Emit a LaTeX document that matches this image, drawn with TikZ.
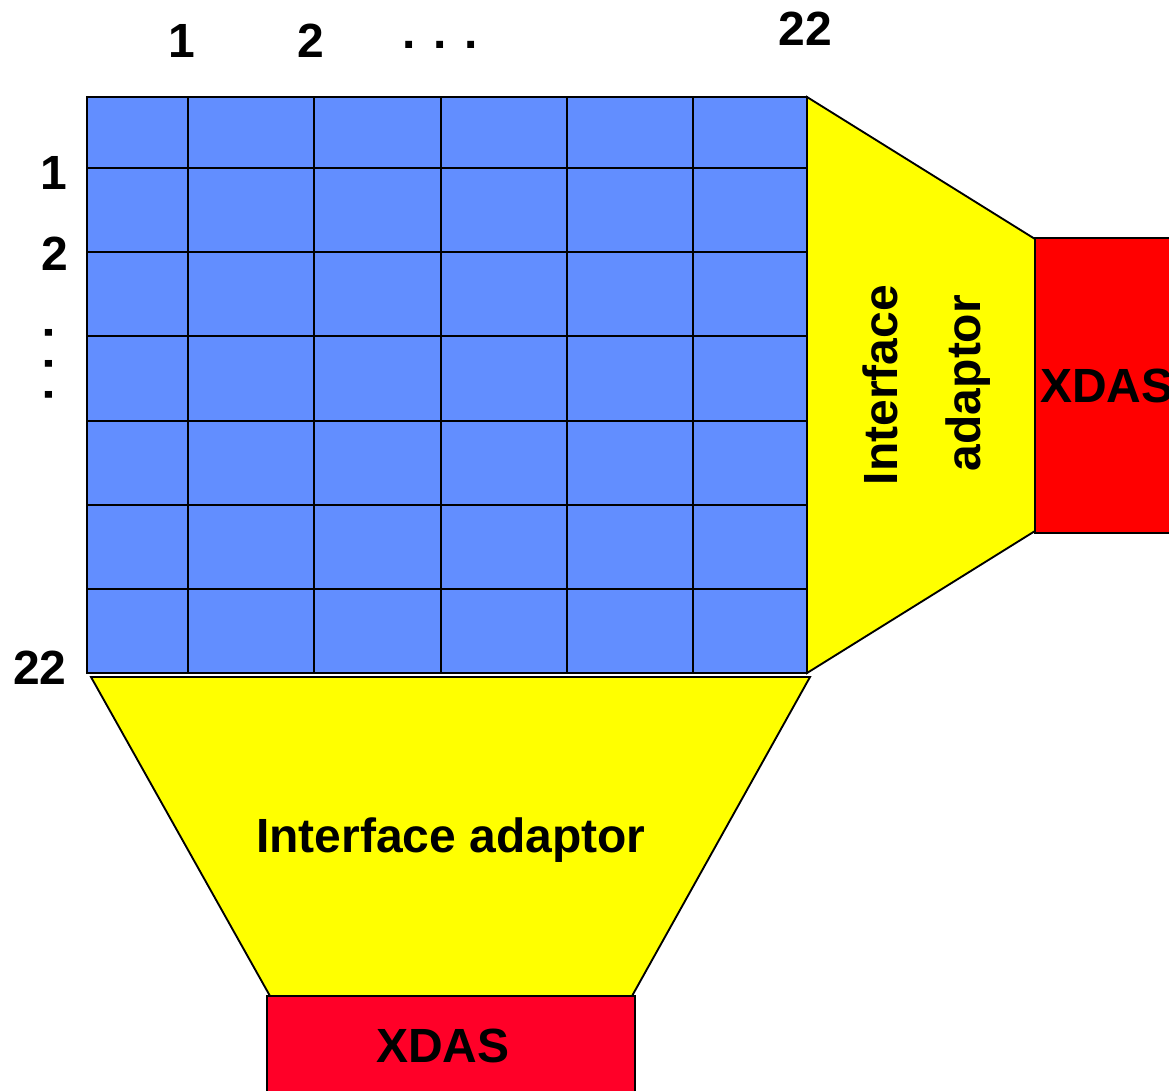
\documentclass[tikz,border=0pt]{standalone}
\usepackage{fontspec}
\setmainfont{Liberation Sans}
\definecolor{gridblue}{RGB}{98,142,255}
\definecolor{adapyellow}{RGB}{255,255,0}
\definecolor{xdasred}{RGB}{255,0,0}
\definecolor{xdascrimson}{RGB}{255,0,40}
\tikzset{
  lbl/.style={font=\fontsize{36}{40}\selectfont\bfseries, inner sep=0pt, anchor=center},
  edge/.style={draw=black, line width=1.4pt},
  gridline/.style={draw=black, line width=1.6pt},
}
\begin{document}
\begin{tikzpicture}[x=0.75pt, y=-0.75pt]
\useasboundingbox (0,0) rectangle (1169,1090);
\clip (0,0) rectangle (1169,1090);
% grid
\fill[gridblue] (87,97) rectangle (807,673);
\foreach \x in {188,314,441,567,693} \draw[gridline] (\x,97) -- (\x,673);
\foreach \y in {168,252,336,421,505,589} \draw[gridline] (87,\y) -- (807,\y);
\draw[gridline] (87,97) rectangle (807,673);
% right adaptor
\coordinate (ra1) at (807,97);
\coordinate (ra2) at (1035,239);
\coordinate (ra3) at (1035,531);
\coordinate (ra4) at (807,673);
\filldraw[fill=adapyellow, edge] (ra1) -- (ra2) -- (ra3) -- (ra4) -- cycle;
% right XDAS
\filldraw[fill=xdasred, edge] (1035,238) rectangle (1180,533);
% bottom adaptor
\coordinate (ba1) at (91,677);
\coordinate (ba2) at (810,677);
\coordinate (ba3) at (632,996);
\coordinate (ba4) at (270,996);
\filldraw[fill=adapyellow, edge] (ba1) -- (ba2) -- (ba3) -- (ba4) -- cycle;
% bottom XDAS
\filldraw[fill=xdascrimson, edge] (267,996) rectangle (635,1100);
% column labels
\node[lbl] (c1) at (182,41) {1};
\node[lbl] (c2) at (311,41) {2};
\node[lbl] (cdots) at (440,45) {. . .};
\node[lbl] (c22) at (805,29) {22};
% row labels
\node[lbl] (r1) at (54,173) {1};
\node[lbl] (r2) at (55,254) {2};
\node[lbl, rotate=90] (rdots) at (49,364) {. . .};
\node[lbl] (r22) at (40,668) {22};
% texts
\node[lbl, rotate=90] (ia1) at (880,385) {Interface};
\node[lbl, rotate=90] (ia2) at (968,383) {adaptor};
\node[lbl, anchor=west] (x1) at (1040,386) {XDAS};
\node[lbl] (ib) at (451,840) {Interface adaptor};
\node[lbl] (x2) at (443,1046) {XDAS};
\end{tikzpicture}
\end{document}
